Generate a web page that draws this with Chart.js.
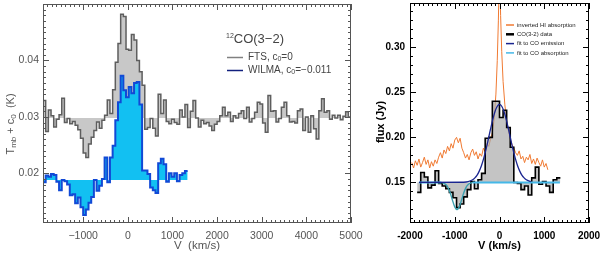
<!DOCTYPE html>
<html>
<head>
<meta charset="utf-8">
<script src="https://cdn.jsdelivr.net/npm/chart.js@4.4.1/dist/chart.umd.min.js"></script>
<style>
  html, body { margin: 0; padding: 0; background: #fff; }
  #wrap { position: relative; width: 600px; height: 254px; overflow: hidden; }
  #left { position: absolute; left: 0; top: 0; }
  #right { position: absolute; left: 356px; top: 0; }
</style>
</head>
<body>
<div id="wrap">
  <canvas id="left" width="380" height="254"></canvas>
  <canvas id="right" width="244" height="254"></canvas>
</div>
<script>
// ---- left panel : 12CO(3-2), FTS and WILMA spectra (60 km/s channels) ----
const chanWidth = 60;
const ftsStart = -1900;
const ftsBase = 0.0298;
const ftsTemp = [
  0.0329, 0.0274, 0.0312, 0.0302, 0.0282, 0.0296, 0.0304, 0.0333, 0.0290, 0.0297,
  0.0288, 0.0292, 0.0285, 0.0277, 0.0262, 0.0236, 0.0228, 0.0252, 0.0264, 0.0276,
  0.0291, 0.0280, 0.0294, 0.0303, 0.0330, 0.0306, 0.0348, 0.0397, 0.0430, 0.0482,
  0.0478, 0.0420, 0.0418, 0.0446, 0.0436, 0.0400, 0.0380, 0.0356, 0.0278, 0.0281,
  0.0297, 0.0280, 0.0266, 0.0340, 0.0306, 0.0330, 0.0292, 0.0288, 0.0296, 0.0290,
  0.0287, 0.0312, 0.0300, 0.0322, 0.0281, 0.0310, 0.0329, 0.0298, 0.0282, 0.0294,
  0.0288, 0.0290, 0.0284, 0.0276, 0.0287, 0.0292, 0.0302, 0.0317, 0.0302, 0.0308,
  0.0292, 0.0302, 0.0298, 0.0306, 0.0311, 0.0297, 0.0317, 0.0291, 0.0297, 0.0308,
  0.0326, 0.0323, 0.0289, 0.0273, 0.0338, 0.0310, 0.0311, 0.0291, 0.0297, 0.0317,
  0.0326, 0.0302, 0.0291, 0.0292, 0.0289, 0.0311, 0.0314, 0.0276, 0.0300, 0.0273,
  0.0302, 0.0279, 0.0261, 0.0311, 0.0332, 0.0308, 0.0311, 0.0296, 0.0303, 0.0298,
  0.0303, 0.0295, 0.0301, 0.0309, 0.0300
];
const wilmaStart = -1900;
const wilmaOffset = -0.011;
const wilmaTemp = [
  0.0184, 0.0196, 0.0194, 0.0199, 0.0197, 0.0185, 0.0170, 0.0188, 0.0186, 0.0180,
  0.0161, 0.0163, 0.0147, 0.0157, 0.0140, 0.0126, 0.0136, 0.0148, 0.0158, 0.0188,
  0.0169, 0.0178, 0.0190, 0.0228, 0.0184, 0.0228, 0.0249, 0.0294, 0.0326, 0.0373,
  0.0347, 0.0335, 0.0353, 0.0342, 0.0360, 0.0362, 0.0322, 0.0205, 0.0205, 0.0199,
  0.0175, 0.0170, 0.0165, 0.0218, 0.0226, 0.0216, 0.0185, 0.0200, 0.0194, 0.0200,
  0.0186, 0.0197, 0.0200, 0.0204
];
const leftXTicks = [-1000, 0, 1000, 2000, 3000, 4000, 5000];
const leftYTicks = [0.02, 0.03, 0.04];

// ---- right panel : CO(3-2) data, HI absorption and fits ----
const coWidth = 80;
const coStart = -1840;
const coFlux = [
  0.139, 0.161, 0.156, 0.144, 0.147, 0.163, 0.149, 0.146, 0.143, 0.139,
  0.133, 0.122, 0.126, 0.134, 0.142, 0.151, 0.143, 0.153, 0.160, 0.199,
  0.200, 0.240, 0.240, 0.222, 0.230, 0.211, 0.189, 0.150, 0.149, 0.142,
  0.146, 0.136, 0.155, 0.167, 0.148, 0.151, 0.146, 0.139, 0.153, 0.155
];
const hiVel = [
  -1960, -1920, -1880, -1840, -1800, -1760, -1720, -1680, -1640, -1600,
  -1560, -1520, -1480, -1440, -1400, -1360, -1320, -1280, -1240, -1200,
  -1160, -1120, -1080, -1040, -1000, -960, -920, -880, -840, -800,
  -760, -720, -680, -640, -600, -560, -520, -480, -440, -400,
  -360, -320, -280, -240, -200, -160, -120, -80, -50, -25,
  -8, 8, 25, 50, 80, 120, 160, 200, 240, 280,
  320, 360, 400, 440, 480, 520, 560, 600, 640, 680,
  720, 760, 800, 840, 880, 920, 960, 1000, 1040, 1080
];
const hiFlux = [
  0.172, 0.166, 0.174, 0.169, 0.176, 0.167, 0.172, 0.178, 0.170, 0.175,
  0.166, 0.173, 0.168, 0.175, 0.171, 0.178, 0.183, 0.177, 0.186, 0.182,
  0.190, 0.185, 0.193, 0.188, 0.197, 0.200, 0.194, 0.199, 0.188, 0.183,
  0.177, 0.181, 0.175, 0.183, 0.187, 0.180, 0.184, 0.176, 0.182, 0.179,
  0.188, 0.184, 0.193, 0.190, 0.198, 0.205, 0.220, 0.248, 0.285, 0.330,
  0.375, 0.372, 0.335, 0.295, 0.262, 0.236, 0.218, 0.207, 0.198, 0.192,
  0.188, 0.183, 0.180, 0.185, 0.176, 0.179, 0.172, 0.178, 0.175, 0.181,
  0.171, 0.176, 0.170, 0.177, 0.172, 0.168, 0.175, 0.167, 0.171, 0.164
];
const emisVel = [-1800, -800, -700, -600, -550, -500, -450, -400, -350, -300, -250, -200, -150, -100, -50,
  0, 50, 100, 150, 200, 250, 300, 350, 400, 450, 500, 550, 600, 700];
const emisFlux = [0.1500, 0.1502, 0.1508, 0.1529, 0.1550, 0.1581, 0.1628, 0.1691, 0.1772, 0.1869, 0.1979, 0.2093, 0.2199, 0.2287, 0.2345,
  0.2365, 0.2345, 0.2287, 0.2199, 0.2093, 0.1979, 0.1869, 0.1772, 0.1691, 0.1628, 0.1581, 0.1550, 0.1529, 0.1508];
const absVel = [-1800, -1400, -1300, -1250, -1200, -1150, -1100, -1050, -1000, -950,
  -900, -850, -800, -750, -700, -650, -600, -500, 1350];
const absFlux = [0.150, 0.150, 0.1498, 0.1493, 0.1477, 0.1443, 0.1382, 0.1301, 0.1229, 0.1200,
  0.1229, 0.1301, 0.1382, 0.1443, 0.1477, 0.1493, 0.1498, 0.150, 0.150];
const coBase = 0.15;
const rightXTicks = [-2000, -1000, 0, 1000, 2000];
const rightYTicks = [0.15, 0.20, 0.25, 0.30];

// channel values -> points at the channel left edges (+ closing edge)
const steps = (start, width, vals) => vals.map((v, i) => ({ x: start + i * width, y: v }))
  .concat([{ x: start + vals.length * width, y: vals[vals.length - 1] }]);
const pairs = (xs, ys) => xs.map((x, i) => ({ x: x, y: ys[i] }));

function drawRich(ctx, x, y, parts, align) {
  let total = 0;
  parts.forEach(p => { ctx.font = p.font; p.w = ctx.measureText(p.text).width; total += p.w; });
  let cx = align === "center" ? x - total / 2 : x;
  parts.forEach(p => { ctx.font = p.font; ctx.fillText(p.text, cx, y + (p.dy || 0)); cx += p.w; });
}

// frame with inward major/minor ticks on the four sides
function drawBoxTicks(chart, o) {
  const { ctx, chartArea: a, scales: { x, y } } = chart;
  ctx.save();
  ctx.strokeStyle = o.color;
  ctx.lineWidth = 1;
  ctx.beginPath();
  for (let k = Math.ceil(x.min / o.xMinor - 1e-6); k * o.xMinor <= x.max + 1e-6; k++) {
    const px = Math.round(x.getPixelForValue(k * o.xMinor)) + 0.5;
    const len = k % o.xEvery === 0 ? o.major : o.minor;
    ctx.moveTo(px, a.bottom); ctx.lineTo(px, a.bottom - len);
    ctx.moveTo(px, a.top); ctx.lineTo(px, a.top + len);
  }
  for (let k = Math.ceil(y.min / o.yMinor - 1e-6); k * o.yMinor <= y.max + 1e-9; k++) {
    const py = Math.round(y.getPixelForValue(k * o.yMinor)) + 0.5;
    const len = k % o.yEvery === 0 ? o.major : o.minor;
    ctx.moveTo(a.left, py); ctx.lineTo(a.left + len, py);
    ctx.moveTo(a.right, py); ctx.lineTo(a.right - len, py);
  }
  ctx.stroke();
  ctx.strokeRect(Math.round(a.left) + 0.5, Math.round(a.top) + 0.5,
    Math.round(a.right - a.left) - 1, Math.round(a.bottom - a.top) - 1);
  ctx.restore();
}

const fixAxes = (yWidth, xHeight) => ({
  y: (s) => { s.width = yWidth; s.paddingTop = 0; s.paddingBottom = 0; },
  x: (s) => { s.height = xHeight; s.paddingLeft = 0; s.paddingRight = 0; }
});

// ---------------- left chart ----------------
const leftFont = "'Liberation Sans', Arial, sans-serif";
const leftFix = fixAxes(43, 31);
const leftDeco = {
  id: "leftDeco",
  afterDraw(chart) {
    const ctx = chart.ctx;
    drawBoxTicks(chart, { color: "#555", xMinor: 100, xEvery: 10, yMinor: 0.001, yEvery: 10, major: 6, minor: 3 });
    ctx.save();
    ctx.fillStyle = "#555";
    ctx.textBaseline = "middle";
    // y title with subscripts
    ctx.save();
    ctx.translate(11, 124);
    ctx.rotate(-Math.PI / 2);
    drawRich(ctx, 0, 0, [
      { text: "T", font: "11px " + leftFont },
      { text: "mb", font: "8px " + leftFont, dy: 3 },
      { text: " + c", font: "11px " + leftFont },
      { text: "0", font: "8px " + leftFont, dy: 3 },
      { text: "  (K)", font: "11px " + leftFont }
    ], "center");
    ctx.restore();
    // x title
    drawRich(ctx, 197, 246, [{ text: "V  (km/s)", font: "11.5px " + leftFont }], "center");
    // legend
    ctx.fillStyle = "#444";
    ctx.textBaseline = "alphabetic";
    drawRich(ctx, 226, 43, [
      { text: "12", font: "7px " + leftFont, dy: -5 },
      { text: "CO(3\u22122)", font: "13px " + leftFont }
    ], "left");
    ctx.textBaseline = "middle";
    ctx.lineWidth = 1.5;
    ctx.strokeStyle = "#808080";
    ctx.beginPath(); ctx.moveTo(227, 57.5); ctx.lineTo(243, 57.5); ctx.stroke();
    ctx.strokeStyle = "#12207e";
    ctx.beginPath(); ctx.moveTo(227, 70.5); ctx.lineTo(243, 70.5); ctx.stroke();
    drawRich(ctx, 248, 57, [
      { text: "FTS, c", font: "10px " + leftFont },
      { text: "0", font: "7px " + leftFont, dy: 2 },
      { text: "=0", font: "10px " + leftFont }
    ], "left");
    drawRich(ctx, 248, 70, [
      { text: "WILMA, c", font: "10px " + leftFont },
      { text: "0", font: "7px " + leftFont, dy: 2 },
      { text: "=\u22120.011", font: "10px " + leftFont }
    ], "left");
    ctx.restore();
  }
};

new Chart(document.getElementById("left"), {
  type: "line",
  data: {
    datasets: [
      {
        label: "WILMA, c0=-0.011",
        data: steps(wilmaStart, chanWidth, wilmaTemp),
        stepped: true,
        borderColor: "#1149d6",
        borderWidth: 2,
        backgroundColor: "#12c0f2",
        fill: { value: ftsBase + wilmaOffset },
        pointRadius: 0,
        order: 0
      },
      {
        label: "FTS, c0=0",
        data: steps(ftsStart, chanWidth, ftsTemp),
        stepped: true,
        borderColor: "#5e5e5e",
        borderWidth: 1.5,
        backgroundColor: "#c8c8c8",
        fill: { value: ftsBase },
        pointRadius: 0,
        order: 1
      }
    ]
  },
  options: {
    responsive: false,
    animation: false,
    devicePixelRatio: 1,
    layout: { padding: { left: 0, right: 29, top: 4, bottom: 0 } },
    plugins: { legend: { display: false }, tooltip: { enabled: false } },
    scales: {
      x: {
        type: "linear", min: -1900, max: 5000,
        grid: { display: false, drawTicks: false }, border: { display: false },
        afterBuildTicks: (s) => { s.ticks = leftXTicks.map(v => ({ value: v })); },
        afterFit: leftFix.x,
        ticks: {
          autoSkip: false, maxRotation: 0, padding: 7, color: "#555",
          font: { family: leftFont, size: 10.5 },
          callback: (v) => (v < 0 ? "\u2212" + Math.abs(v) : String(v))
        }
      },
      y: {
        type: "linear", min: 0.0112, max: 0.05,
        grid: { display: false, drawTicks: false }, border: { display: false },
        afterBuildTicks: (s) => { s.ticks = leftYTicks.map(v => ({ value: v })); },
        afterFit: leftFix.y,
        ticks: {
          padding: 4, color: "#555",
          font: { family: leftFont, size: 10.5 },
          callback: (v) => v.toFixed(2)
        }
      }
    }
  },
  plugins: [leftDeco]
});

// ---------------- right chart ----------------
const rightFont = "'Liberation Sans', Arial, sans-serif";
const rightFix = fixAxes(54, 31);
const legendRows = [
  { text: "inverted HI absorption", color: "#f07a32", width: 1.5 },
  { text: "CO(3-2) data", color: "#000000", width: 2.5 },
  { text: "fit to CO emission", color: "#1a2590", width: 1.5 },
  { text: "fit to CO absorption", color: "#45b8e8", width: 1.5 }
];
const rightDeco = {
  id: "rightDeco",
  afterDraw(chart) {
    const ctx = chart.ctx;
    drawBoxTicks(chart, { color: "#000", xMinor: 100, xEvery: 10, yMinor: 0.01, yEvery: 5, major: 6, minor: 3 });
    ctx.save();
    ctx.fillStyle = "#000";
    ctx.textBaseline = "middle";
    ctx.save();
    ctx.translate(25, 122);
    ctx.rotate(-Math.PI / 2);
    drawRich(ctx, 0, 0, [{ text: "flux (Jy)", font: "bold 11px " + rightFont }], "center");
    ctx.restore();
    drawRich(ctx, 143.5, 246, [{ text: "V (km/s)", font: "bold 11px " + rightFont }], "center");
    legendRows.forEach((r, i) => {
      const yy = 25 + i * 9.3;
      ctx.strokeStyle = r.color;
      ctx.lineWidth = r.width;
      ctx.beginPath(); ctx.moveTo(150, yy); ctx.lineTo(158, yy); ctx.stroke();
      ctx.fillStyle = "#222";
      drawRich(ctx, 161, yy, [{ text: r.text, font: "6px " + rightFont }], "left");
    });
    ctx.restore();
  }
};

new Chart(document.getElementById("right"), {
  type: "line",
  data: {
    datasets: [
      {
        label: "fit to CO emission",
        data: pairs(emisVel, emisFlux),
        borderColor: "#1a2590",
        borderWidth: 1.3,
        cubicInterpolationMode: "monotone",
        pointRadius: 0, fill: false, order: 0
      },
      {
        label: "fit to CO absorption",
        data: pairs(absVel, absFlux),
        borderWidth: 2,
        borderColor: "#45b8e8",
        segment: {
          borderColor: (c) => (c.p0.parsed.y < 0.1495 || c.p1.parsed.y < 0.1495 ? "#3aa0b0" : undefined),
          borderWidth: (c) => (c.p0.parsed.y < 0.1495 || c.p1.parsed.y < 0.1495 ? 1.4 : undefined)
        },
        cubicInterpolationMode: "monotone",
        pointRadius: 0, fill: false, order: 1
      },
      {
        label: "CO(3-2) data",
        data: steps(coStart, coWidth, coFlux),
        stepped: true,
        borderColor: "#000",
        borderWidth: 1.6,
        backgroundColor: "rgba(168,168,168,0.68)",
        fill: { value: coBase },
        pointRadius: 0, order: 2
      },
      {
        label: "inverted HI absorption",
        data: pairs(hiVel, hiFlux),
        borderColor: "#f07a32",
        borderWidth: 1,
        pointRadius: 0, fill: false, order: 3
      }
    ]
  },
  options: {
    responsive: false,
    animation: false,
    devicePixelRatio: 1,
    layout: { padding: { left: 0, right: 11, top: 3, bottom: 0 } },
    plugins: { legend: { display: false }, tooltip: { enabled: false } },
    scales: {
      x: {
        type: "linear", min: -2000, max: 2000,
        grid: { display: false, drawTicks: false }, border: { display: false },
        afterBuildTicks: (s) => { s.ticks = rightXTicks.map(v => ({ value: v })); },
        afterFit: rightFix.x,
        ticks: {
          autoSkip: false, maxRotation: 0, padding: 7, color: "#000",
          font: { family: rightFont, size: 10, weight: "bold" },
          callback: (v) => String(v)
        }
      },
      y: {
        type: "linear", min: 0.105, max: 0.349,
        grid: { display: false, drawTicks: false }, border: { display: false },
        afterBuildTicks: (s) => { s.ticks = rightYTicks.map(v => ({ value: v })); },
        afterFit: rightFix.y,
        ticks: {
          padding: 5, color: "#000",
          font: { family: rightFont, size: 10, weight: "bold" },
          callback: (v) => v.toFixed(2)
        }
      }
    }
  },
  plugins: [rightDeco]
});
</script>
</body>
</html>
